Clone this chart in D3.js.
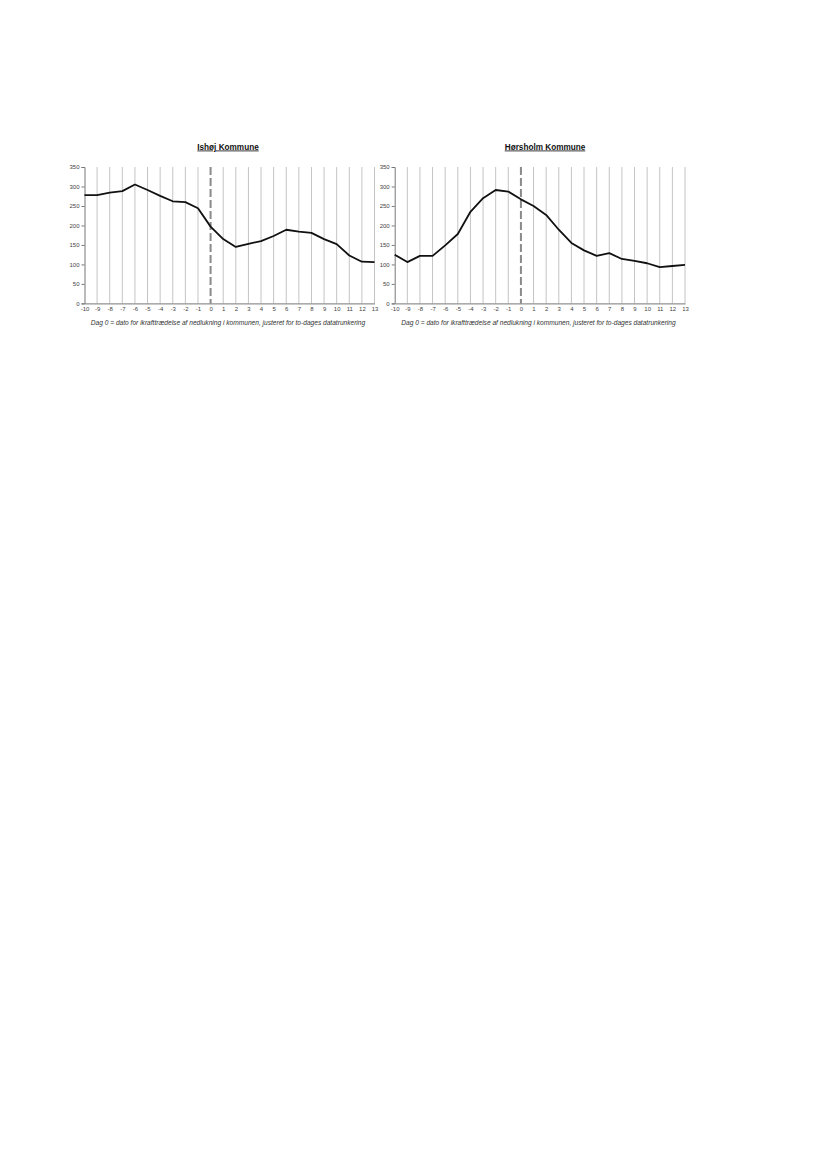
<!DOCTYPE html>
<html><head><meta charset="utf-8">
<script src="https://cdn.jsdelivr.net/npm/d3@7"></script>
<style>body{margin:0;background:#fff}svg{display:block}</style>
</head><body>
<script>
const days = d3.range(-10, 14);
const yTicks = [0, 50, 100, 150, 200, 250, 300, 350];
const titles = ["Ishøj Kommune", "Hørsholm Kommune"];
const caption = "Dag 0 = dato for ikrafttrædelse af nedlukning i kommunen, justeret for to-dages datatrunkering";
const ishoj = [278, 278, 284, 288, 305, 291, 276, 262, 260, 244, 197, 165, 145, 153, 160, 173, 189, 184, 181, 165, 152, 123, 107, 106];
const horsholm = [125, 106, 122, 122, 149, 178, 235, 270, 291, 287, 267, 250, 227, 189, 155, 136, 122, 129, 114, 109, 103, 93, 96, 99];

const W = 827, H = 1169;
const svg = d3.select("body").append("svg").attr("width", W).attr("height", H);

const panels = [
  {x0: 84.5, x1: 374.5, data: ishoj, title: titles[0], tx: 228, cx: 228},
  {x0: 394.7, x1: 685, data: horsholm, title: titles[1], tx: 545, cx: 538.5}
];
const yTop = 167, yBot = 303.4;
const y = d3.scaleLinear().domain([0, 350]).range([yBot, yTop]);
const FONT = "Liberation Sans, Arial, sans-serif";

panels.forEach(p => {
  const x = d3.scaleLinear().domain([-10, 13]).range([p.x0, p.x1]);
  const g = svg.append("g");
  g.selectAll("line.grid").data(days.filter(d => d !== -10 && d !== 0)).join("line")
    .attr("x1", d => x(d)).attr("x2", d => x(d)).attr("y1", yTop).attr("y2", yBot)
    .attr("stroke", "#c4c4c4").attr("stroke-width", 1);
  g.append("line").attr("x1", x(0)).attr("x2", x(0)).attr("y1", yTop).attr("y2", yBot)
    .attr("stroke", "#8a8a8a").attr("stroke-width", 2).attr("stroke-dasharray", "8,3");
  const ya = g.append("g").attr("transform", `translate(${p.x0},0)`)
    .call(d3.axisLeft(y).tickValues(yTicks).tickSize(3).tickPadding(2));
  ya.select(".domain").attr("stroke", "#777").attr("stroke-width", 1);
  ya.selectAll(".tick line").attr("stroke", "#777");
  ya.selectAll("text").attr("font-family", FONT).attr("font-size", 6).attr("fill", "#444");
  const xa = g.append("g").attr("transform", `translate(0,${yBot})`)
    .call(d3.axisBottom(x).tickValues(days).tickSize(0).tickPadding(3.5).tickFormat(d => String(d)));
  xa.select(".domain").attr("stroke", "#777").attr("stroke-width", 1);
  xa.selectAll("text").attr("font-family", FONT).attr("font-size", 6).attr("fill", "#444");
  const line = d3.line().x((d, i) => x(days[i])).y(d => y(d));
  g.append("path").datum(p.data).attr("d", line).attr("fill", "none")
    .attr("stroke", "#111").attr("stroke-width", 1.8).attr("stroke-linejoin", "round");
  g.append("text").attr("x", p.tx).attr("y", 149.5).attr("text-anchor", "middle")
    .attr("font-family", FONT).attr("font-weight", "bold")
    .attr("font-size", 8.2).attr("fill", "#111").attr("text-decoration", "underline").text(p.title);
  g.append("text").attr("x", p.cx).attr("y", 324.5).attr("text-anchor", "middle")
    .attr("font-family", FONT).attr("font-style", "italic")
    .attr("font-size", 6.6).attr("fill", "#333").text(caption);
});
</script>
</body></html>
